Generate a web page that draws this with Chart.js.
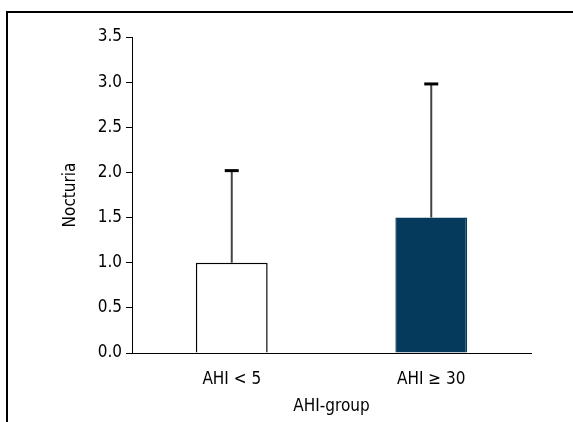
<!DOCTYPE html>
<html>
<head>
<meta charset="utf-8">
<script src="https://cdn.jsdelivr.net/npm/chart.js@4"></script>
<style>
  html, body { margin: 0; padding: 0; background: #fff; }
  #wrap { position: relative; width: 573px; height: 422px; overflow: hidden; }
  #frame {
    position: absolute; left: 6px; top: 11px; width: 600px; height: 500px;
    border-left: 2px solid #000; border-top: 2px solid #000;
  }
  canvas { position: absolute; left: 0; top: 0; }
</style>
</head>
<body>
<div id="wrap">
  <div id="frame"></div>
  <canvas id="nocturiaChart" width="573" height="422"></canvas>
</div>
<script>
const categories = ['AHI < 5', 'AHI \u2265 30'];
const meanValues = [1.0, 1.5];
const upperValues = [2.02, 2.98];
const barColors = ['#ffffff', '#053a5c'];
const borderColors = ['#000000', '#053a5c'];

const FONT = "'Liberation Sans Narrow', 'DejaVu Sans Condensed', sans-serif";

// draws the upward error bars from the bar tops
const errorBars = {
    id: 'errorBars',
    afterDatasetsDraw(chart) {
        const ctx = chart.ctx;
        const yScale = chart.scales.y;
        const meta = chart.getDatasetMeta(0);
        meta.data.forEach((bar, i) => {
            const top = yScale.getPixelForValue(meanValues[i]);
            const up = yScale.getPixelForValue(upperValues[i]);
            ctx.save();
            ctx.strokeStyle = '#444';
            ctx.lineWidth = 2;
            ctx.beginPath();
            ctx.moveTo(bar.x, top);
            ctx.lineTo(bar.x, up);
            ctx.stroke();
            ctx.strokeStyle = '#000';
            ctx.lineWidth = 3;
            ctx.beginPath();
            ctx.moveTo(bar.x - 7, up);
            ctx.lineTo(bar.x + 7, up);
            ctx.stroke();
            ctx.restore();
        });
    }
};

const ctx = document.getElementById('nocturiaChart').getContext('2d');
new Chart(ctx, {
    type: 'bar',
    data: {
        labels: categories,
        datasets: [{
            data: meanValues,
            backgroundColor: barColors,
            borderColor: borderColors,
            borderWidth: 1.5,
            borderSkipped: 'bottom',
            barPercentage: 0.36,
            categoryPercentage: 1.0
        }]
    },
    options: {
        responsive: false,
        animation: false,
        devicePixelRatio: 1,
        layout: { padding: { left: 60, top: 37, right: 42, bottom: 0 } },
        plugins: { legend: { display: false }, tooltip: { enabled: false } },
        scales: {
            y: {
                min: 0,
                max: 3.5,
                ticks: {
                    stepSize: 0.5,
                    color: '#000',
                    padding: 4,
                    font: { family: FONT, size: 17 },
                    callback: v => v.toFixed(1)
                },
                grid: { drawOnChartArea: false, drawTicks: true, tickLength: 6, color: '#000' },
                border: { display: true, color: '#000', width: 1 },
                title: {
                    display: true,
                    text: 'Nocturia',
                    color: '#000',
                    font: { family: FONT, size: 17 },
                    padding: { top: 0, bottom: 0 }
                },
                afterFit(scale) { scale.width = 72; }
            },
            x: {
                ticks: {
                    color: '#000',
                    padding: 8,
                    font: { family: FONT, size: 17 }
                },
                grid: { display: false },
                border: { display: true, color: '#000', width: 1 },
                title: {
                    display: true,
                    text: 'AHI-group',
                    color: '#000',
                    font: { family: FONT, size: 17 },
                    padding: { top: 0, bottom: 5 }
                },
                afterFit(scale) { scale.height = 69; }
            }
        }
    },
    plugins: [errorBars]
});
</script>
</body>
</html>
